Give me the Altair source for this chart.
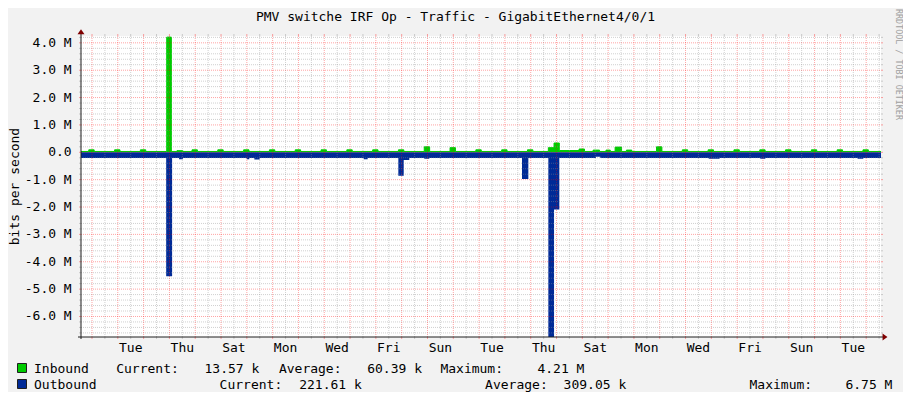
import altair as alt
import pandas as pd

# ---------------- data ----------------
TITLE = "PMV switche IRF Op - Traffic - GigabitEthernet4/0/1"
Y_TITLE = "bits per second"
WATERMARK = "RRDTOOL / TOBI OETIKER"

# time axis: hours relative to the first midnight shown (Monday 00:00)
START_H = -10.23
END_H = 733.77

day_labels = ["Tue", "Thu", "Sat", "Mon", "Wed", "Fri", "Sun",
              "Tue", "Thu", "Sat", "Mon", "Wed", "Fri", "Sun", "Tue"]
day_label_hours = [36, 84, 132, 180, 228, 276, 324, 372, 420, 468, 516, 564, 612, 660, 708]

y_tick_values_m = [4, 3, 2, 1, 0, -1, -2, -3, -4, -5, -6]

# Inbound (bits/s, in M): baseline plus read-off bumps (start hour, end hour, value)
in_base_m = 0.03
in_start = [-3, 21, 45, 69.5, 79, 93, 117, 141, 165, 189, 213, 237, 261, 285, 309, 333,
            357, 381, 405, 424.4, 429.7, 434.6, 453, 466, 478, 486.5, 497, 525, 549, 573,
            597, 621, 645, 669, 693, 717]
in_end = [2, 26, 50, 73.8, 84.5, 98, 122, 146, 170, 194, 218, 242, 266, 290, 314, 338,
          362, 386, 410, 429.7, 434.6, 453, 458, 472, 482, 492.5, 502, 530, 554, 578,
          602, 626, 650, 674, 698, 722]
in_mbps = [0.09, 0.09, 0.09, 4.21, 0.06, 0.09, 0.09, 0.09, 0.09, 0.09, 0.09, 0.09, 0.09, 0.09, 0.20, 0.17,
           0.09, 0.09, 0.09, 0.17, 0.34, 0.065, 0.12, 0.08, 0.08, 0.19, 0.08, 0.20, 0.09, 0.09,
           0.09, 0.09, 0.09, 0.09, 0.09, 0.09]

# Outbound (bits/s, in M, drawn below zero)
out_base_m = 0.21
out_start = [69, 80.9, 143.9, 151, 252.7, 284.9, 289.9, 309, 399.9, 424.4, 429.7, 468.7, 573.5, 621.5, 712]
out_end = [74.5, 84.6, 146.3, 156, 256.4, 289.9, 295.1, 313.7, 405.8, 429.7, 434.6, 472.7, 583.7, 626.2, 717.3]
out_mbps = [4.53, 0.25, 0.25, 0.26, 0.25, 0.86, 0.28, 0.24, 0.98, 6.75, 2.09, 0.16, 0.24, 0.24, 0.24]

legend_names = ["Inbound", "Outbound"]
in_stats = ["13.57 k", "60.39 k", "4.21 M"]
out_stats = ["221.61 k", "309.05 k", "6.75 M"]

# ---------------- style / layout ----------------
FONT = "DejaVu Sans Mono"
GREEN = "#00CC00"
BLUE = "#002A97"
AXIS = "#1f1f1f"
ARROW = "#7f0000"
MAJ, MAJ_OP = "#ff0000", 0.36
MIN, MIN_OP = "#8f8f8f", 0.42
W, H = 800, 301
OX, OY = 81, 36  # plot origin in page pixels
CHART_W, CHART_H = 895, 384  # whole canvas (page is 911x400 with an 8px margin)

xs = alt.Scale(domain=[START_H, END_H], nice=False, zero=False)
ys = alt.Scale(domain=[-6.75e6, 4.25e6], nice=False, zero=False, clamp=True)
one = pd.DataFrame({"k": [0]})


def steps(starts, ends, vals, base, sign):
    segs = sorted(zip(starts, ends, vals))
    pts = [(START_H, base)]
    for i, (s, e, v) in enumerate(segs):
        pts.append((s, v))
        if i + 1 == len(segs) or segs[i + 1][0] > e + 1e-6:
            pts.append((e, base))
    pts.append((END_H, base))
    df = pd.DataFrame(pts, columns=["h", "m"])
    df["bps"] = sign * df["m"] * 1e6
    return df


in_df = steps(in_start, in_end, in_mbps, in_base_m, 1)
out_df = steps(out_start, out_end, out_mbps, out_base_m, -1)

vmaj = pd.DataFrame({"h": list(range(0, 721, 24))})
vmin = pd.DataFrame({"h": list(range(12, 733, 24))})
hmaj = pd.DataFrame({"v": [m * 1e6 for m in range(-6, 5)]})
hmin = pd.DataFrame({"v": [k * 0.2e6 for k in range(-33, 22) if k % 5 != 0]})

ylab_df = pd.DataFrame({
    "v": [m * 1e6 for m in y_tick_values_m],
    "label": [("%.1f M" % m) if m != 0 else "0.0\u00a0\u00a0" for m in y_tick_values_m],
})
xlab_df = pd.DataFrame({"h": day_label_hours, "label": day_labels})


def X(f):
    return alt.X(f + ":Q", scale=xs, axis=None)


def Y(f):
    return alt.Y(f + ":Q", scale=ys, axis=None, stack=None)


def vgrid(df, color, op):
    base = alt.Chart(df)
    return [
        base.mark_rule(color=color, strokeOpacity=op, strokeDash=[1, 1], strokeWidth=1)
            .encode(x=X("h"), y=alt.value(0), y2=alt.value(H)),
        base.mark_rule(color=color, strokeOpacity=op, strokeWidth=1)
            .encode(x=X("h"), y=alt.value(H), y2=alt.value(H + 2)),
        base.mark_rule(color=color, strokeOpacity=op, strokeWidth=1)
            .encode(x=X("h"), y=alt.value(-2), y2=alt.value(0)),
    ]


def hgrid(df, color, op):
    base = alt.Chart(df)
    return [
        base.mark_rule(color=color, strokeOpacity=op, strokeDash=[1, 1], strokeWidth=1)
            .encode(y=Y("v"), x=alt.value(0), x2=alt.value(W)),
        base.mark_rule(color=color, strokeOpacity=op, strokeWidth=1)
            .encode(y=Y("v"), x=alt.value(-2), x2=alt.value(0)),
        base.mark_rule(color=color, strokeOpacity=op, strokeWidth=1)
            .encode(y=Y("v"), x=alt.value(W), x2=alt.value(W + 2)),
    ]


def label(txt, px, py, size=13, align="left", color="#000000", angle=0, baseline="alphabetic"):
    return alt.Chart(one).mark_text(
        text=txt, font=FONT, fontSize=size, align=align, baseline=baseline,
        color=color, angle=angle,
    ).encode(x=alt.value(px - OX), y=alt.value(py - OY))


layers = []

# data
layers.append(alt.Chart(in_df).mark_area(interpolate="step-after", color=GREEN)
              .encode(x=X("h"), y=Y("bps"), y2=alt.datum(0)))
layers.append(alt.Chart(in_df).mark_line(interpolate="step-after", color=GREEN, strokeWidth=1)
              .encode(x=X("h"), y=Y("bps")))
layers.append(alt.Chart(out_df).mark_area(interpolate="step-after", color=BLUE)
              .encode(x=X("h"), y=Y("bps"), y2=alt.datum(0)))

# grid (drawn over the data, like rrdtool)
layers += vgrid(vmin, MIN, MIN_OP) + hgrid(hmin, MIN, MIN_OP)
layers += vgrid(vmaj, MAJ, MAJ_OP) + hgrid(hmaj, MAJ, MAJ_OP)

# axes and arrows
layers.append(alt.Chart(one).mark_rule(color=AXIS, strokeWidth=1)
              .encode(x=alt.value(0), y=alt.value(-4), y2=alt.value(H + 2)))
layers.append(alt.Chart(one).mark_rule(color=AXIS, strokeWidth=1)
              .encode(x=alt.value(-3), x2=alt.value(W + 4), y=alt.value(H)))
layers.append(alt.Chart(one).mark_point(shape="M-1,0.7L1,0.7L0,-0.7Z", size=49, filled=True,
                                        color=ARROW, opacity=1, strokeWidth=0)
              .encode(x=alt.value(0), y=alt.value(-4.3)))
layers.append(alt.Chart(one).mark_point(shape="M-0.7,-1L0.7,0L-0.7,1Z", size=49, filled=True,
                                        color=ARROW, opacity=1, strokeWidth=0)
              .encode(x=alt.value(W + 4), y=alt.value(H)))

# axis labels
layers.append(alt.Chart(xlab_df).mark_text(font=FONT, fontSize=13, align="center",
                                           baseline="alphabetic", color="#000000")
              .encode(x=X("h"), y=alt.value(351.7 - OY), text="label:N"))
layers.append(alt.Chart(ylab_df).mark_text(font=FONT, fontSize=13, align="right",
                                           baseline="middle", color="#000000")
              .encode(x=alt.value(71.7 - OX), y=Y("v"), text="label:N"))
layers.append(label(Y_TITLE, 19, 186.5, align="center", angle=270))
layers.append(label(TITLE, 455.5, 21, align="center"))
layers.append(label(WATERMARK, 895.5, 9, size=8.4, color="#a0a0a0", angle=90))

# legend
sq_colors = [GREEN, BLUE]
sq_top = [363.5, 379.5]
for c, t in zip(sq_colors, sq_top):
    layers.append(alt.Chart(one).mark_rect(fill=c, stroke="#1f1f1f", strokeWidth=1)
                  .encode(x=alt.value(17.5 - OX), x2=alt.value(26.5 - OX),
                          y=alt.value(t - OY), y2=alt.value(t + 9 - OY)))

row_texts = [
    [legend_names[0], "Current:", in_stats[0], "Average:", in_stats[1], "Maximum:", in_stats[2]],
    [legend_names[1], "Current:", out_stats[0], "Average:", out_stats[1], "Maximum:", out_stats[2]],
]
row_x = [
    [34, 116.2, 204.5, 278.9, 367.2, 440.4, 537.4],
    [34, 219.6, 299.2, 485.1, 563.6, 749.5, 845.4],
]
row_y = [373.3, 389]
for texts, xsr, yy in zip(row_texts, row_x, row_y):
    for t, px in zip(texts, xsr):
        layers.append(label(t, px, yy))

chart = alt.layer(*layers).properties(
    width=W, height=H,
    background="#F2F2F2",
    padding={"left": OX - 8, "top": OY - 8,
             "right": CHART_W - (OX - 8) - W, "bottom": CHART_H - (OY - 8) - H},
    autosize=alt.AutoSizeParams(type="none"),
).configure_view(fill="white", strokeWidth=0)

chart.save("out.html", embed_options={"renderer": "svg", "actions": False})
